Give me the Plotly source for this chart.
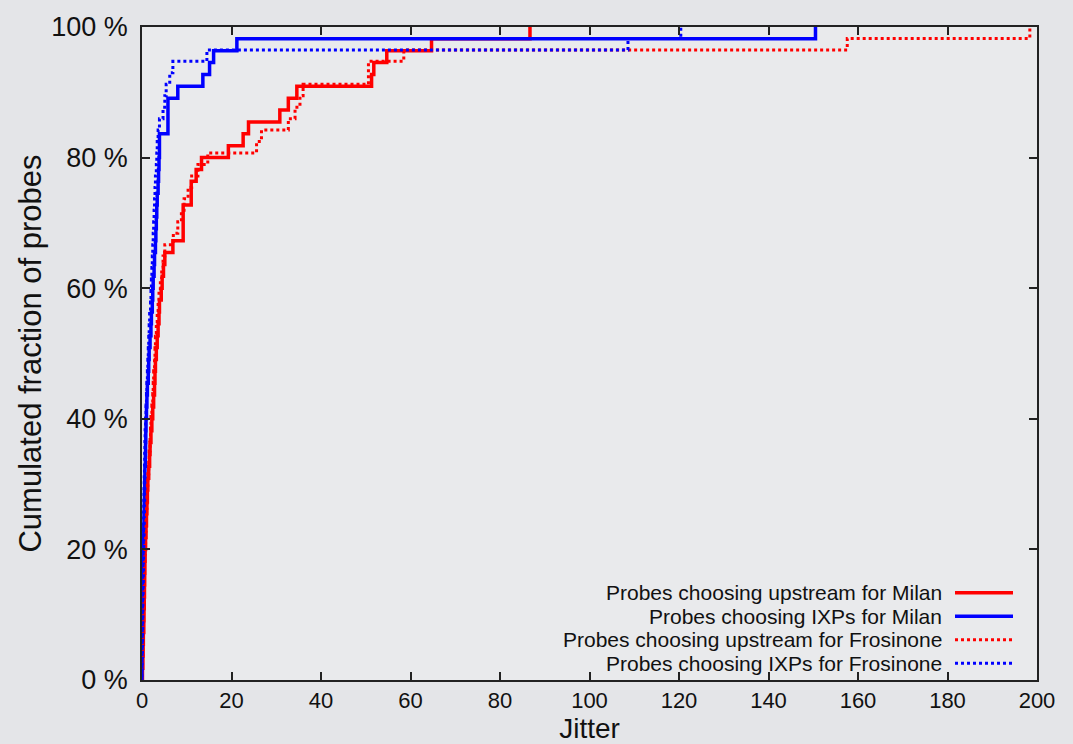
import plotly.graph_objects as go

# Sorted jitter samples (CDF)
milan_upstream = [0.1, 0.2, 0.25, 0.3, 0.4, 0.45, 0.5, 0.55, 0.6, 0.65,
                  0.7, 0.8, 0.9, 1.0, 1.1, 1.2, 1.3, 1.5, 1.7, 1.8,
                  2.0, 2.2, 2.4, 2.6, 2.8, 2.9, 3.0, 3.2, 3.4, 3.6,
                  3.8, 3.9, 4.3, 4.5, 4.8, 5.1, 6.9, 9.2, 9.2, 9.2,
                  11.0, 11.0, 12.1, 13.3, 19.3, 22.6, 23.8, 30.8, 32.7, 34.6,
                  51.3, 51.8, 54.7, 64.7, 86.7]

milan_ixp = [0.0, 0.02, 0.05, 0.08, 0.1, 0.12, 0.15, 0.2, 0.25, 0.28,
             0.3, 0.35, 0.4, 0.45, 0.5, 0.55, 0.6, 0.65, 0.75, 0.8,
             0.85, 0.9, 1.0, 1.1, 1.2, 1.4, 1.5, 1.6, 1.8, 2.0,
             2.1, 2.3, 2.4, 2.5, 2.7, 2.8, 3.0, 3.1, 3.2, 3.3,
             3.4, 3.6, 3.7, 3.8, 3.9, 3.9, 5.8, 5.8, 5.8, 8.0,
             13.6, 15.1, 16.0, 21.2, 150.5]

frosinone_upstream = [0.05, 0.1, 0.2, 0.25, 0.3, 0.35, 0.4, 0.45, 0.5, 0.55,
                      0.6, 0.7, 0.8, 0.9, 1.0, 1.1, 1.2, 1.3, 1.5, 1.6,
                      1.8, 1.9, 2.0, 2.2, 2.4, 2.5, 2.6, 2.8, 2.9, 3.0,
                      3.2, 3.4, 3.6, 3.8, 4.1, 4.4, 4.7, 5.1, 7.0, 8.0,
                      8.8, 9.4, 10.3, 11.1, 12.5, 14.7, 25.6, 26.7, 32.7, 34.2,
                      35.3, 36.0, 50.6, 50.6, 58.5, 157.6, 198.4]

frosinone_ixp = [0.0, 0.01, 0.02, 0.04, 0.05, 0.07, 0.1, 0.12, 0.15, 0.18,
                 0.2, 0.25, 0.3, 0.33, 0.36, 0.4, 0.45, 0.5, 0.55, 0.6,
                 0.65, 0.7, 0.8, 0.9, 1.0, 1.1, 1.2, 1.3, 1.4, 1.5,
                 1.6, 1.7, 1.9, 2.0, 2.1, 2.2, 2.3, 2.4, 2.5, 2.6,
                 2.7, 2.8, 2.9, 3.0, 3.2, 3.3, 3.4, 3.6, 3.9, 4.7,
                 5.1, 5.4, 6.2, 6.9, 14.5, 108.6, 120.4]

series_names = ["Probes choosing upstream for Milan",
                "Probes choosing IXPs for Milan",
                "Probes choosing upstream for Frosinone",
                "Probes choosing IXPs for Frosinone"]
series_data = [milan_upstream, milan_ixp, frosinone_upstream, frosinone_ixp]
series_colors = ["#ff0000", "#0000ff", "#ff0000", "#0000ff"]
series_dash = ["solid", "solid", "dot", "dot"]

x_ticks = list(range(0, 201, 20))
y_ticks = list(range(0, 101, 20))

FONT = "Liberation Sans, Arial, Helvetica, sans-serif"

fig = go.Figure()
for name, vals, col, dash in zip(series_names, series_data, series_colors, series_dash):
    n = len(vals)
    xs = [vals[0]] + list(vals)
    ys = [0.0] + [100.0 * (i + 1) / n for i in range(n)]
    fig.add_trace(go.Scatter(
        x=xs, y=ys, mode="lines", name=name,
        line=dict(color=col, width=3.5 if dash == "solid" else 3, dash=dash, shape="hv"),
        showlegend=False,
    ))

# Legend drawn gnuplot-style (text right-aligned, sample line on its right)
L, R, T, B = 142, 1037, 27, 680
W, H = R - L, B - T
row_y = [592.75, 616.25, 639.75, 663.25]
annotations = []
shapes = []
for name, col, dash, py in zip(series_names, series_colors, series_dash, row_y):
    yp = (B - py) / H
    annotations.append(dict(
        x=(943 - L) / W, y=yp, xref="paper", yref="paper",
        text=name, showarrow=False, xanchor="right", yanchor="middle",
        borderpad=0,
        font=dict(family=FONT, size=21, color="#111111"),
    ))
    shapes.append(dict(
        type="line", xref="paper", yref="paper",
        x0=(955 - L) / W, x1=(1013 - L) / W, y0=yp, y1=yp,
        line=dict(color=col, width=3.5 if dash == "solid" else 3, dash=dash),
    ))

fig.update_layout(
    width=1073, height=744,
    margin=dict(l=L, r=1073 - R, t=T, b=744 - B, autoexpand=False),
    paper_bgcolor="#e4e5e8",
    plot_bgcolor="#e9eaec",
    font=dict(family=FONT, color="#111111"),
    annotations=annotations,
    shapes=shapes,
    xaxis=dict(
        range=[0, 200], tickvals=x_ticks, ticktext=[str(v) for v in x_ticks],
        ticks="inside", ticklen=8, tickwidth=1.5, tickcolor="#222222",
        showline=True, linecolor="#222222", linewidth=1.5, mirror="ticks",
        showgrid=False, zeroline=False,
        tickfont=dict(family=FONT, size=22, color="#111111"),
        title=dict(text="Jitter", font=dict(family=FONT, size=28, color="#111111"), standoff=8),
    ),
    yaxis=dict(
        range=[0, 100], tickvals=y_ticks, ticktext=[f"{v} %" for v in y_ticks],
        ticks="inside", ticklen=8, tickwidth=1.5, tickcolor="#222222",
        showline=True, linecolor="#222222", linewidth=1.5, mirror="ticks",
        showgrid=False, zeroline=False,
        ticklabelstandoff=7,
        tickfont=dict(family=FONT, size=27, color="#111111"),
        title=dict(text="Cumulated fraction of probes", font=dict(family=FONT, size=31, color="#111111"), standoff=0),
    ),
)

fig.write_html("out.html")
